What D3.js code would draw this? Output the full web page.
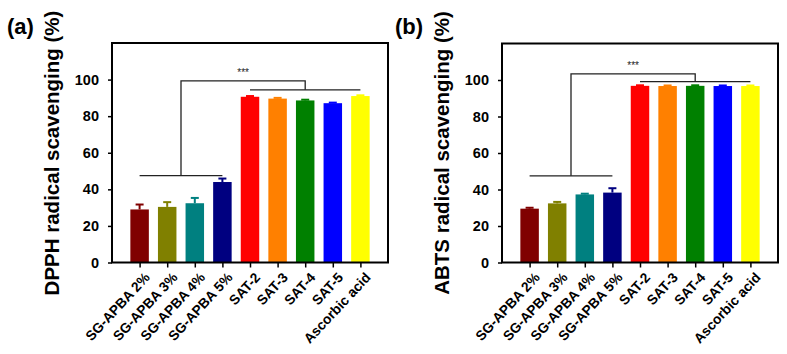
<!DOCTYPE html>
<html>
<head>
<meta charset="utf-8">
<script src="https://cdn.jsdelivr.net/npm/d3@7"></script>
<style>
  body { margin: 0; background: #fff; }
  svg { display: block; font-family: Arial, "Liberation Sans", sans-serif; }
</style>
</head>
<body>
<svg id="chart" width="787" height="354"></svg>
<script>
// samples, left to right
const categories = ["SG-APBA 2%", "SG-APBA 3%", "SG-APBA 4%", "SG-APBA 5%",
  "SAT-2", "SAT-3", "SAT-4", "SAT-5", "Ascorbic acid"];
const barColors = ["#800000", "#808000", "#008080", "#000080",
  "#ff0000", "#ff8000", "#008000", "#0000ff", "#ffff00"];

// DPPH (a)
const dpphMean = [29.0, 30.4, 32.4, 44.0, 90.6, 89.6, 88.6, 87.1, 91.0];
const dpphErr = [2.7, 2.6, 2.9, 1.9, 0.4, 0.4, 0.4, 0.3, 0.4];
// ABTS (b)
const abtsMean = [29.5, 32.4, 37.3, 38.3, 96.8, 96.7, 96.8, 96.7, 96.7];
const abtsErr = [0.5, 0.8, 0.4, 2.4, 0.3, 0.3, 0.3, 0.3, 0.3];

const yTicks = [0, 20, 40, 60, 80, 100];

const svg = d3.select("#chart");

// one bar panel with frame, axes, error bars and the *** bracket
function drawPanel(opts) {
  const { left, right, top, bottom, values, errors, title, tag, tagX, titleX, bracket } = opts;

  const x = d3.scalePoint().domain(categories).range([left, right]).padding(1);
  const y = d3.scaleLinear().domain([0, 120]).range([bottom, top]);
  const bw = x.step() * 0.67;

  const g = svg.append("g");

  // bars
  g.selectAll("rect.bar")
    .data(categories)
    .join("rect")
    .attr("class", "bar")
    .attr("x", d => x(d) - bw / 2)
    .attr("width", bw)
    .attr("y", (d, i) => y(values[i]))
    .attr("height", (d, i) => y(0) - y(values[i]))
    .attr("fill", (d, i) => barColors[i]);

  // error bars (upper only)
  const eb = g.selectAll("g.err").data(categories).join("g").attr("class", "err");
  eb.append("line")
    .attr("x1", d => x(d)).attr("x2", d => x(d))
    .attr("y1", (d, i) => y(values[i]))
    .attr("y2", (d, i) => y(values[i] + errors[i]))
    .attr("stroke", (d, i) => barColors[i]).attr("stroke-width", 2);
  eb.append("line")
    .attr("x1", d => x(d) - 4).attr("x2", d => x(d) + 4)
    .attr("y1", (d, i) => y(values[i] + errors[i]))
    .attr("y2", (d, i) => y(values[i] + errors[i]))
    .attr("stroke", (d, i) => barColors[i]).attr("stroke-width", 2);

  // frame
  g.append("rect")
    .attr("x", left).attr("y", top)
    .attr("width", right - left).attr("height", bottom - top)
    .attr("fill", "none").attr("stroke", "#000").attr("stroke-width", 2);

  // y axis
  const yAxis = g.append("g")
    .attr("transform", `translate(${left},0)`)
    .call(d3.axisLeft(y).tickValues(yTicks).tickSize(4).tickPadding(9));
  yAxis.select(".domain").remove();
  yAxis.selectAll(".tick line").attr("stroke-width", 1.5);
  yAxis.selectAll("text")
    .attr("font-size", 14.5).attr("font-weight", "bold").attr("fill", "#000")
    .attr("font-family", "Arial, 'Liberation Sans', sans-serif");

  // x axis
  const xAxis = g.append("g")
    .attr("transform", `translate(0,${bottom})`)
    .call(d3.axisBottom(x).tickSize(5).tickFormat(""));
  xAxis.select(".domain").remove();
  xAxis.selectAll(".tick line").attr("stroke-width", 1.5);

  g.selectAll("text.xlab")
    .data(categories)
    .join("text")
    .attr("class", "xlab")
    .attr("transform", d => `translate(${x(d) + 4},${bottom + 9}) rotate(-47)`)
    .attr("text-anchor", "end")
    .attr("dy", "0.7em")
    .attr("font-size", 13.8).attr("font-weight", "bold")
    .text(d => d);

  // y title
  g.append("text")
    .attr("transform", `translate(${titleX},153) rotate(-90)`)
    .attr("text-anchor", "middle")
    .attr("dy", "0.35em")
    .attr("font-size", 20.5).attr("font-weight", "bold")
    .text(title);

  // panel tag
  svg.append("text")
    .attr("x", tagX).attr("y", 34)
    .attr("font-size", 22).attr("font-weight", "bold")
    .text(tag);

  // significance bracket
  const c = categories;
  const lx1 = x(c[0]), lx2 = x(c[3]), rx1 = x(c[4]), rx2 = x(c[8]);
  const lm = (lx1 + lx2) / 2, rm = x(c[6]);
  const line = d3.line();
  const br = g.append("g").attr("fill", "none").attr("stroke", "#222").attr("stroke-width", 1.3);
  br.append("path").attr("d", line([[lx1, y(bracket.low)], [lx2, y(bracket.low)]]));
  br.append("path").attr("d", line([[rx1, y(bracket.high)], [rx2, y(bracket.high)]]));
  br.append("path").attr("d", line([[lm, y(bracket.low)], [lm, y(bracket.top)], [rm, y(bracket.top)], [rm, y(bracket.high)]]));
  g.append("text")
    .attr("x", (lm + rm) / 2).attr("y", y(bracket.top) - 5)
    .attr("text-anchor", "middle")
    .attr("font-size", 10)
    .attr("fill", "#222")
    .text("***");
}

drawPanel({
  left: 112, right: 388, top: 43, bottom: 262.5,
  values: dpphMean, errors: dpphErr,
  title: "DPPH radical scavenging (%)", tag: "(a)", tagX: 7, titleX: 52,
  bracket: { low: 47.5, high: 94.4, top: 99.3 }
});

drawPanel({
  left: 502, right: 778, top: 43.5, bottom: 262.5,
  values: abtsMean, errors: abtsErr,
  title: "ABTS radical scavenging (%)", tag: "(b)", tagX: 395, titleX: 442,
  bracket: { low: 47.5, high: 99.1, top: 103.4 }
});
</script>
</body>
</html>
